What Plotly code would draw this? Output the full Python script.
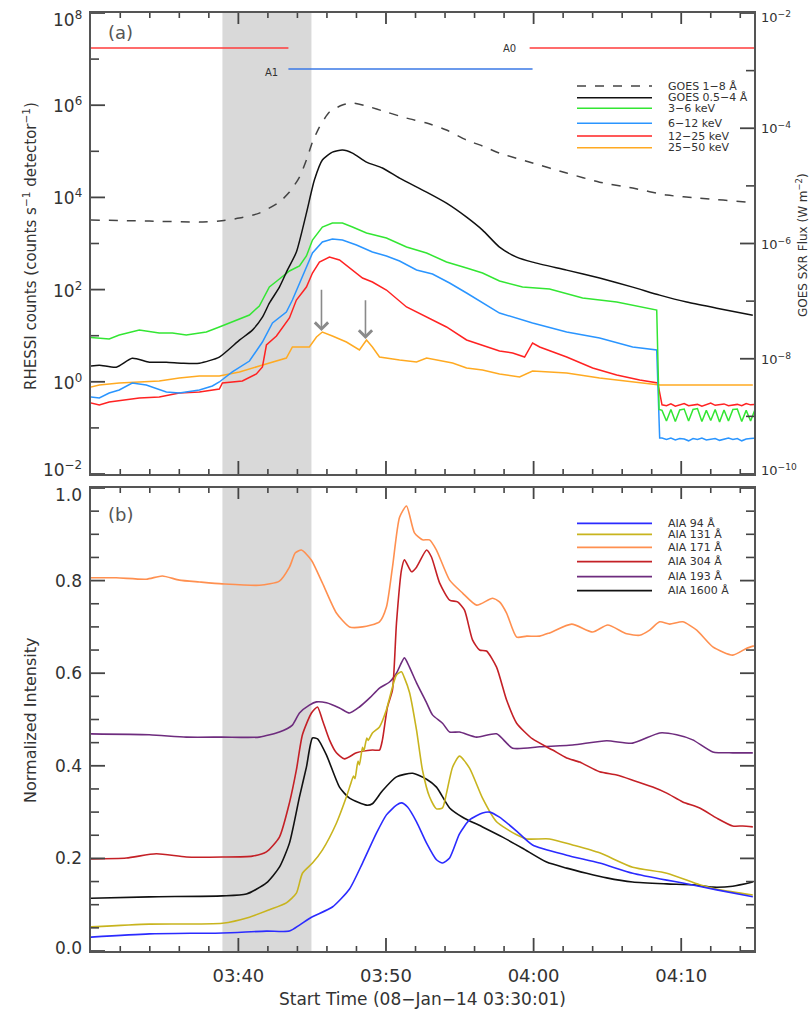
import numpy as np
import plotly.graph_objects as go

# ---------------------------------------------------------------------------
# Time is expressed in minutes after 03:30:00 UT, 2014-01-08
# ---------------------------------------------------------------------------
tick_minutes = [10, 20, 30, 40]
tick_labels = ["03:40", "03:50", "04:00", "04:10"]
shade_start, shade_end = 8.92, 14.95

# ---- GOES X-ray flux (W m^-2) ---------------------------------------------
goes18_t = [0, 3.97, 7.36, 8.71, 10.07, 11.42, 12.78, 13.46, 14.14, 14.61, 15.02, 15.49,
            16.17, 17.05, 17.73, 18.68, 20.03, 21.39, 22.75, 24.10, 25.46, 26.54, 27.69,
            29.93, 32.24, 34.47, 36.71, 39.02, 41.25, 44.51, 45.0]
goes18_flux = [2.55e-6, 2.45e-6, 2.35e-6, 2.45e-6, 2.76e-6, 3.37e-6, 5.24e-6, 7.80e-6,
               1.42e-5, 2.81e-5, 5.75e-5, 1.05e-4, 1.91e-4, 2.53e-4, 2.74e-4, 2.43e-4,
               1.91e-4, 1.50e-4, 1.23e-4, 9.31e-5, 6.24e-5, 4.91e-5, 3.71e-5, 2.49e-5,
               1.67e-5, 1.16e-5, 9.16e-6, 6.92e-6, 6.14e-6, 5.24e-6, 5.15e-6]

goes054_t = [0, 0.58, 1.73, 2.81, 3.97, 5.12, 6.20, 7.36, 8.71, 10.07, 10.95, 11.63, 12.10,
             12.78, 13.32, 13.93, 14.61, 15.15, 15.69, 16.37, 17.05, 17.73, 18.68, 19.76,
             20.92, 22.75, 24.10, 25.46, 26.54, 27.69, 28.85, 29.93, 32.24, 34.47, 36.71,
             38.54, 40.37, 42.41, 44.85]
goes054_flux = [7.45e-9, 7.74e-9, 7.14e-9, 1.02e-8, 8.73e-9, 8.73e-9, 8.39e-9, 8.39e-9,
                1.07e-8, 2.10e-8, 3.14e-8, 5.27e-8, 9.23e-8, 1.75e-7, 3.45e-7, 7.10e-7,
                3.37e-6, 1.26e-5, 2.81e-5, 3.86e-5, 4.19e-5, 3.71e-5, 2.59e-5, 2.04e-5,
                1.36e-5, 7.80e-6, 5.02e-6, 2.87e-6, 1.71e-6, 8.65e-7, 5.81e-7, 4.75e-7,
                3.45e-7, 2.51e-7, 1.75e-7, 1.27e-7, 9.62e-8, 7.55e-8, 5.71e-8]

# ---- RHESSI count rates, log10(counts s^-1 detector^-1) -------------------
post_t = [38.7, 39.0, 39.3, 39.6, 39.9, 40.2, 40.5, 40.8, 41.1, 41.4, 41.7, 42.0, 42.3,
          42.6, 42.9, 43.2, 43.5, 43.8, 44.1, 44.4, 44.7, 45.0]

r3_6_t = [0, 1.25, 1.93, 3.29, 4.64, 5.53, 6.47, 7.83, 8.71, 9.59, 10.75, 11.42, 12.10,
          12.78, 13.46, 14.14, 14.61, 15.02, 15.69, 16.37, 17.05, 17.73, 18.68, 20.03,
          21.39, 22.75, 24.10, 25.46, 26.54, 27.69, 29.25, 31.08, 33.32, 35.63, 37.66,
          38.34, 38.5] + post_t
r3_6_log = [0.964, 0.928, 1.015, 1.124, 1.059, 1.059, 1.015, 1.080, 1.189, 1.297, 1.449,
            1.644, 2.056, 2.230, 2.404, 2.512, 2.729, 3.076, 3.358, 3.445, 3.445, 3.358,
            3.228, 3.119, 2.924, 2.794, 2.599, 2.469, 2.360, 2.187, 2.056, 2.013, 1.818,
            1.731, 1.601, 1.557, -0.60,
            -0.62, -0.85, -0.60, -0.86, -0.61, -0.59, -0.85, -0.60, -0.58, -0.86, -0.62,
            -0.84, -0.60, -0.87, -0.61, -0.85, -0.60, -0.59, -0.86, -0.62, -0.85, -0.60]

r6_12_t = [0, 0.58, 1.25, 1.93, 2.81, 3.76, 5.12, 6.00, 7.36, 8.24, 8.71, 9.59, 10.75,
           11.63, 12.31, 13.25, 13.66, 14.14, 14.61, 15.02, 15.69, 16.37, 17.05, 18.00,
           19.08, 20.03, 20.92, 22.07, 23.15, 24.31, 25.46, 26.54, 27.69, 29.93, 32.24,
           34.47, 36.71, 38.34, 38.54] + post_t
r6_12_log = [-0.330, -0.351, -0.243, -0.178, -0.026, -0.069, -0.221, -0.243, -0.178, -0.091,
             -0.004, 0.213, 0.451, 0.863, 1.275, 1.514, 1.774, 2.143, 2.469, 2.794, 3.033,
             3.098, 3.076, 2.967, 2.816, 2.729, 2.620, 2.425, 2.338, 2.143, 1.926, 1.709,
             1.492, 1.275, 1.080, 0.950, 0.755, 0.690, -1.22,
             -1.22, -1.25, -1.22, -1.26, -1.23, -1.24, -1.28, -1.23, -1.25, -1.22, -1.26,
             -1.24, -1.23, -1.27, -1.24, -1.22, -1.25, -1.23, -1.28, -1.24, -1.23, -1.22]

r12_25_t = [0, 0.58, 1.25, 2.14, 3.29, 4.64, 6.00, 7.36, 8.71, 8.92, 10.27, 11.22, 11.63,
            11.90, 12.58, 13.46, 13.93, 14.61, 15.02, 15.49, 16.17, 16.85, 17.73, 18.41,
            19.08, 20.03, 21.39, 22.75, 24.10, 25.46, 26.81, 27.69, 28.58, 29.39, 29.93,
            30.41, 32.24, 34.00, 35.63, 37.19, 38.41, 38.68] + post_t
r12_25_log = [-0.460, -0.503, -0.438, -0.395, -0.351, -0.330, -0.243, -0.221, -0.156,
              -0.026, 0.017, 0.169, 0.321, 0.798, 0.993, 1.384, 1.774, 2.056, 2.360, 2.599,
              2.707, 2.642, 2.425, 2.252, 2.165, 1.991, 1.623, 1.406, 1.189, 0.907, 0.755,
              0.668, 0.625, 0.538, 0.842, 0.755, 0.538, 0.299, 0.147, 0.039, -0.026, -0.50,
              -0.50, -0.52, -0.48, -0.53, -0.50, -0.47, -0.52, -0.50, -0.49, -0.53, -0.50,
              -0.46, -0.51, -0.50, -0.48, -0.52, -0.50, -0.49, -0.52, -0.47, -0.50, -0.49]

r25_50_t = [0, 0.58, 1.93, 3.29, 4.64, 6.00, 7.36, 8.71, 10.07, 11.42, 12.78, 13.25, 13.66,
            14.14, 14.81, 15.29, 15.69, 16.37, 17.32, 18.20, 18.68, 19.08, 19.56, 20.92,
            22.07, 22.75, 23.42, 24.51, 25.46, 26.54, 27.69, 29.05, 29.93, 32.24, 34.47,
            36.71, 38.54, 40.37, 42.41, 44.85]
r25_50_log = [-0.113, -0.069, -0.026, -0.004, 0.017, 0.082, 0.126, 0.126, 0.213, 0.343,
              0.473, 0.516, 0.755, 0.755, 0.755, 0.972, 1.080, 0.993, 0.863, 0.690, 0.907,
              0.755, 0.538, 0.473, 0.430, 0.516, 0.473, 0.408, 0.299, 0.256, 0.169, 0.104,
              0.234, 0.191, 0.082, -0.004, -0.069, -0.069, -0.069, -0.069]

# ---- RHESSI attenuator states ---------------------------------------------
a0_level, a1_level = 1.74e7, 6.1e6
a0_spans = [(0.0, 13.39), (29.73, 45.0)]
a1_spans = [(13.39, 29.93)]

# HXR peaks marked with arrows: (time, log10 tip, log10 tail)
hxr_peaks = [(15.63, 1.10, 2.03), (18.61, 0.93, 1.80)]

# ---- AIA normalized light curves ------------------------------------------
aia94_t = [0, 3.97, 8.92, 11.90, 13.46, 14.14, 14.95, 16.37, 17.53, 18.41, 19.36, 20.03,
           20.71, 21.05, 21.46, 22.07, 22.75, 23.42, 23.83, 24.31, 24.98, 25.66, 26.54,
           27.02, 27.69, 28.85, 29.93, 32.24, 34.47, 36.71, 39.02, 40.10, 42.41, 44.85]
aia94 = [0.030, 0.037, 0.039, 0.043, 0.043, 0.056, 0.073, 0.095, 0.134, 0.190, 0.255,
         0.294, 0.315, 0.320, 0.311, 0.279, 0.233, 0.197, 0.190, 0.201, 0.253, 0.283,
         0.298, 0.300, 0.289, 0.259, 0.229, 0.207, 0.190, 0.168, 0.153, 0.147, 0.132, 0.117]

aia131_t = [0, 3.97, 8.92, 10.75, 12.10, 13.25, 13.93, 14.34, 15.02, 15.69, 16.64, 17.32,
            17.6, 17.8, 17.9, 18.1, 18.2, 18.41, 18.5, 18.7, 18.8, 19.08, 19.56, 20.03,
            20.24, 20.71, 21.05, 21.25, 21.59, 22.07, 22.47, 22.95, 23.42, 23.83, 24.10,
            24.51, 24.98, 25.66, 26.54, 27.49, 28.85, 29.53, 31.08, 32.64, 34.47, 36.71,
            39.02, 41.25, 42.61, 44.85]
aia131 = [0.052, 0.058, 0.060, 0.073, 0.089, 0.104, 0.125, 0.168, 0.190, 0.218, 0.276,
          0.333, 0.360, 0.378, 0.372, 0.410, 0.402, 0.440, 0.432, 0.460, 0.455, 0.471,
          0.484, 0.521, 0.546, 0.596, 0.603, 0.590, 0.559, 0.477, 0.391, 0.333, 0.307,
          0.309, 0.341, 0.397, 0.421, 0.395, 0.330, 0.279, 0.251, 0.242, 0.242, 0.229,
          0.212, 0.181, 0.168, 0.143, 0.132, 0.121]

aia171_t = [0, 1.73, 3.76, 4.85, 6.00, 7.36, 8.92, 11.42, 12.78, 13.46, 13.86, 14.27, 14.95,
            15.69, 16.64, 17.53, 18.41, 19.56, 20.03, 20.44, 20.92, 21.39, 21.93, 22.47,
            22.95, 23.42, 24.31, 25.19, 26.14, 27.22, 27.69, 28.17, 28.85, 29.53, 30.41,
            31.08, 32.58, 34.00, 35.02, 36.31, 37.19, 37.86, 38.54, 39.22, 40.10, 41.05,
            42.14, 43.49, 44.44, 44.92]
aia171 = [0.806, 0.806, 0.803, 0.810, 0.801, 0.797, 0.793, 0.790, 0.799, 0.829, 0.860,
          0.866, 0.844, 0.795, 0.730, 0.700, 0.700, 0.711, 0.743, 0.829, 0.937, 0.961,
          0.903, 0.888, 0.888, 0.866, 0.801, 0.773, 0.747, 0.762, 0.754, 0.730, 0.678,
          0.680, 0.680, 0.687, 0.706, 0.689, 0.704, 0.685, 0.682, 0.693, 0.711, 0.706,
          0.711, 0.693, 0.657, 0.639, 0.654, 0.659]

aia304_t = [0, 2.41, 4.44, 6.47, 8.92, 10.95, 11.90, 12.78, 13.46, 13.93, 14.34, 14.95,
            15.36, 15.69, 16.17, 16.64, 17.19, 18.00, 19.08, 19.56, 19.76, 20.10, 20.44,
            20.71, 21.05, 21.25, 21.73, 22.07, 22.75, 23.08, 23.63, 24.31, 24.85, 25.32,
            25.86, 26.34, 26.81, 27.49, 28.17, 28.85, 29.93, 31.29, 32.24, 33.12, 34.47,
            35.63, 36.71, 38.07, 39.02, 40.10, 41.25, 42.41, 43.49, 44.17, 44.85]
aia304 = [0.199, 0.201, 0.210, 0.203, 0.203, 0.205, 0.214, 0.246, 0.320, 0.391, 0.467,
          0.514, 0.527, 0.499, 0.456, 0.428, 0.415, 0.428, 0.434, 0.434, 0.456, 0.527,
          0.564, 0.708, 0.823, 0.845, 0.819, 0.829, 0.866, 0.851, 0.795, 0.758, 0.754,
          0.736, 0.672, 0.650, 0.648, 0.613, 0.542, 0.492, 0.458, 0.434, 0.417, 0.408,
          0.387, 0.380, 0.369, 0.354, 0.341, 0.322, 0.309, 0.287, 0.270, 0.270, 0.268]

aia193_t = [0, 3.97, 6.47, 8.92, 11.42, 12.78, 13.66, 14.14, 14.81, 15.29, 15.97, 16.85,
            17.53, 18.20, 18.88, 19.56, 20.24, 20.71, 21.25, 21.59, 22.07, 22.75, 23.15,
            23.83, 24.31, 24.98, 26.14, 27.49, 28.58, 30.41, 32.64, 34.95, 36.71, 38.54,
            39.69, 40.78, 42.14, 43.49, 44.85]
aia193 = [0.469, 0.467, 0.462, 0.462, 0.462, 0.473, 0.488, 0.514, 0.531, 0.538, 0.536,
          0.525, 0.514, 0.527, 0.546, 0.568, 0.581, 0.600, 0.633, 0.613, 0.579, 0.536,
          0.510, 0.492, 0.473, 0.473, 0.462, 0.469, 0.438, 0.441, 0.445, 0.454, 0.449,
          0.471, 0.467, 0.456, 0.430, 0.428, 0.428]

aia1600_t = [0, 3.97, 8.92, 10.54, 11.90, 12.78, 13.46, 14.14, 14.61, 15.02, 15.36, 15.97,
             16.85, 17.53, 18.68, 19.08, 19.76, 20.71, 21.80, 22.75, 23.42, 24.31, 25.19,
             26.54, 27.90, 29.25, 30.88, 32.24, 33.59, 34.95, 36.71, 39.02, 40.78, 42.14,
             43.49, 44.85]
aia1600 = [0.114, 0.117, 0.119, 0.123, 0.147, 0.181, 0.233, 0.333, 0.397, 0.460, 0.458,
           0.423, 0.354, 0.330, 0.315, 0.318, 0.346, 0.376, 0.384, 0.371, 0.354, 0.309,
           0.289, 0.268, 0.246, 0.222, 0.192, 0.179, 0.168, 0.158, 0.149, 0.145, 0.143,
           0.138, 0.140, 0.149]

# ---------------------------------------------------------------------------
AX = "#444444"
TXT = "#333333"
FONT = "DejaVu Sans"

fig = go.Figure()


def line(t, y, color, xa, ya, dash=None, width=1.5, shape="linear"):
    fig.add_trace(go.Scatter(
        x=t, y=y, mode="lines", xaxis=xa, yaxis=ya, showlegend=False,
        hoverinfo="skip",
        line=dict(color=color, width=width, dash=dash, shape=shape,
                  smoothing=0.6 if shape == "spline" else None)))


# panel (a): attenuator states
for s, e in a0_spans:
    line([s, e], [a0_level, a0_level], "#ff3b3b", "x", "y", width=1.4)
for s, e in a1_spans:
    line([s, e], [a1_level, a1_level], "#3a78e6", "x", "y", width=1.4)

# panel (a): RHESSI
line(r25_50_t, np.power(10.0, r25_50_log), "#ffaa22", "x", "y")
line(r12_25_t, np.power(10.0, r12_25_log), "#ff2222", "x", "y")
line(r6_12_t, np.power(10.0, r6_12_log), "#2a95ff", "x", "y")
line(r3_6_t, np.power(10.0, r3_6_log), "#33e633", "x", "y")

# panel (a): GOES on the right-hand axis
line(goes18_t, goes18_flux, "#444444", "x", "y2", dash="dash", width=1.5, shape="spline")
line(goes054_t, goes054_flux, "#111111", "x", "y2", width=1.5, shape="spline")

# panel (b): AIA
aia_series = [
    (aia171_t, aia171, "#ff9050"),
    (aia193_t, aia193, "#6e2c7e"),
    (aia304_t, aia304, "#c42026"),
    (aia1600_t, aia1600, "#111111"),
    (aia131_t, aia131, "#c8b41e"),
    (aia94_t, aia94, "#2b2bff"),
]
for t, y, c in aia_series:
    line(t, y, c, "x2", "y3", width=1.6, shape="spline")

# ---------------------------------------------------------------------------
# layout geometry (pixels of the 811 x 1010 page)
PL, PR, PT, PB = 91, 754, 13, 951
TOP_H, BOT_H, W = 474 - 13, 951 - 488, 754 - 91
X_RANGE = [0.017, 44.93]
LEFT_DEC = [-2, 8]      # log10 range of the counts axis
RIGHT_DEC = [-10, -2]   # log10 range of the flux axis


def px(xp):
    return (xp - PL) / (PR - PL)


def py(yp):
    return (PB - yp) / (PB - PT)


top_dom = [py(474), 1.0]
bot_dom = [0.0, py(488)]

log_left_vals = [1e-2, 1, 1e2, 1e4, 1e6, 1e8]
log_left_text = ["10<sup>−2</sup>", "10<sup>0</sup>", "10<sup>2</sup>", "10<sup>4</sup>",
                 "10<sup>6</sup>", "10<sup>8</sup>"]
log_left_minor = [1e-1, 1e1, 1e3, 1e5, 1e7]
log_right_vals = [1e-10, 1e-8, 1e-6, 1e-4, 1e-2]
log_right_text = ["10<sup>−10</sup>", "10<sup>−8</sup>", "10<sup>−6</sup>",
                  "10<sup>−4</sup>", "10<sup>−2</sup>"]
log_right_minor = [1e-9, 1e-7, 1e-5, 1e-3]
norm_vals = [0.0, 0.2, 0.4, 0.6, 0.8, 1.0]
norm_text = ["0.0", "0.2", "0.4", "0.6", "0.8", "1.0"]
norm_minor = [round(0.05 * k, 2) for k in range(1, 20) if k % 4]
minute_minor = [m for m in range(2, 45, 2) if m % 10]

# ---- inward tick marks, drawn as line segments on each axis ---------------
mpp = (X_RANGE[1] - X_RANGE[0]) / W        # minutes per pixel


def tick_trace(pairs, xa, ya, width):
    xs, ys = [], []
    for (xa_, ya_), (xb_, yb_) in pairs:
        xs += [xa_, xb_, None]
        ys += [ya_, yb_, None]
    fig.add_trace(go.Scatter(x=xs, y=ys, mode="lines", xaxis=xa, yaxis=ya,
                             showlegend=False, hoverinfo="skip", connectgaps=False,
                             line=dict(color=AX, width=width)))


def x_ticks(xa, ya, lo, hi, up, major_len, minor_len):
    maj, mnr = [], []
    for m in tick_minutes:
        maj.append(((m, lo), (m, up(lo, major_len))))
        maj.append(((m, hi), (m, up(hi, -major_len + 2))))
    for m in minute_minor:
        mnr.append(((m, lo), (m, up(lo, minor_len))))
        mnr.append(((m, hi), (m, up(hi, -minor_len))))
    tick_trace(maj, xa, ya, 1.8)
    tick_trace(mnr, xa, ya, 1.6)


def log_up(dec_per_px):
    return lambda v, pix: v * 10 ** (pix * dec_per_px)


def lin_up(val_per_px):
    return lambda v, pix: v + pix * val_per_px


x_ticks("x", "y", 10 ** LEFT_DEC[0], 10 ** LEFT_DEC[1],
        log_up((LEFT_DEC[1] - LEFT_DEC[0]) / TOP_H), 13, 5)
x_ticks("x2", "y3", 0.0, 1.0, lin_up(1.0 / BOT_H), 13, 5)

x0, x1 = X_RANGE
tick_trace([((x0, v), (x0 + 14 * mpp, v)) for v in log_left_vals], "x", "y", 1.8)
tick_trace([((x0, v), (x0 + 8 * mpp, v)) for v in log_left_minor], "x", "y", 1.6)
tick_trace([((x1, v), (x1 - 14 * mpp, v)) for v in log_right_vals], "x", "y2", 1.8)
tick_trace([((x1, v), (x1 - 8 * mpp, v)) for v in log_right_minor], "x", "y2", 1.6)
tick_trace([((x0, v), (x0 + 14 * mpp, v)) for v in norm_vals] +
           [((x1, v), (x1 - 14 * mpp, v)) for v in norm_vals], "x2", "y3", 1.8)
tick_trace([((x0, v), (x0 + 8 * mpp, v)) for v in norm_minor] +
           [((x1, v), (x1 - 8 * mpp, v)) for v in norm_minor], "x2", "y3", 1.6)

xcommon = dict(range=X_RANGE, tickmode="array", tickvals=tick_minutes,
               ticktext=tick_labels, ticks="", showline=True, linecolor="#555555",
               linewidth=1.6, mirror=True, showgrid=False, zeroline=False)
ycommon = dict(ticks="", showline=True, linecolor="#555555", linewidth=1.6,
               showgrid=False, zeroline=False, showticklabels=False)

fig.update_layout(
    width=811, height=1010,
    margin=dict(l=PL, r=811 - PR, t=PT, b=1010 - PB),
    paper_bgcolor="white", plot_bgcolor="white",
    showlegend=False,
    font=dict(family=FONT, color=TXT),
    xaxis=dict(**xcommon, domain=[0, 1], anchor="y", showticklabels=False),
    xaxis2=dict(**xcommon, domain=[0, 1], anchor="y3", matches="x",
                showticklabels=True, tickfont=dict(size=18, color=TXT),
                ticklabelstandoff=8),
    yaxis=dict(**ycommon, domain=top_dom, anchor="x", type="log", range=LEFT_DEC),
    yaxis2=dict(**ycommon, overlaying="y", anchor="x", side="right", type="log",
                range=RIGHT_DEC),
    yaxis3=dict(**ycommon, domain=bot_dom, anchor="x2", range=[0, 1.0], mirror=True),
)

shapes = [
    dict(type="rect", xref="x", yref="y domain", x0=shade_start, x1=shade_end, y0=0,
         y1=1, fillcolor="#d9d9d9", line=dict(width=0), layer="below"),
    dict(type="rect", xref="x2", yref="y3 domain", x0=shade_start, x1=shade_end, y0=0,
         y1=1, fillcolor="#d9d9d9", line=dict(width=0), layer="below"),
]
annotations = []


def note(text, x, y, size, xref="paper", yref="paper", color=TXT, angle=0,
         xanchor="center", xshift=0, yshift=0):
    annotations.append(dict(xref=xref, yref=yref, x=x, y=y, text=text, showarrow=False,
                            xanchor=xanchor, yanchor="middle", textangle=angle,
                            xshift=xshift, yshift=yshift,
                            font=dict(size=size, color=color, family=FONT)))


# y-axis tick labels; the end labels are nudged inside the frame
def end_shift(i, n, low, high):
    return low if i == 0 else (-high if i == n - 1 else 0)


for i, (v, s) in enumerate(zip(log_left_vals, log_left_text)):
    note(s, 0, np.log10(v), 17, xref="x domain", yref="y", xanchor="right", xshift=-7,
         yshift=end_shift(i, len(log_left_vals), 5, 6))
for i, (v, s) in enumerate(zip(log_right_vals, log_right_text)):
    note(s, 1, np.log10(v), 13, xref="x domain", yref="y2", xanchor="left", xshift=5,
         yshift=end_shift(i, len(log_right_vals), 4, 4))
for i, (v, s) in enumerate(zip(norm_vals, norm_text)):
    note(s, 0, v, 17, xref="x2 domain", yref="y3", xanchor="right", xshift=-7,
         yshift=end_shift(i, len(norm_vals), 3, 7))

# legends
top_legend = [
    ("GOES 1−8 Å", "#444444", "dash", 86.0),
    ("GOES 0.5−4 Å", "#111111", None, 97.7),
    ("3−6 keV", "#33e633", None, 108.3),
    ("6−12 keV", "#2a95ff", None, 123.3),
    ("12−25 keV", "#ff2222", None, 136.0),
    ("25−50 keV", "#ffaa22", None, 147.7),
]
bot_legend = [
    ("AIA 94 Å", "#2b2bff", 523.3),
    ("AIA 131 Å", "#c8b41e", 534.3),
    ("AIA 171 Å", "#ff9050", 547.3),
    ("AIA 304 Å", "#c42026", 561.7),
    ("AIA 193 Å", "#6e2c7e", 576.7),
    ("AIA 1600 Å", "#111111", 590.7),
]
for label, color, dash, yp in top_legend:
    shapes.append(dict(type="line", xref="paper", yref="paper", x0=px(577), x1=px(652),
                       y0=py(yp), y1=py(yp),
                       line=dict(color=color, width=1.5, dash=dash or "solid")))
    note(label, px(666), py(yp), 11, xanchor="left")
for label, color, yp in bot_legend:
    shapes.append(dict(type="line", xref="paper", yref="paper", x0=px(577), x1=px(652),
                       y0=py(yp), y1=py(yp), line=dict(color=color, width=1.7)))
    note(label, px(666), py(yp), 11, xanchor="left")

# attenuator labels
note("A1", 12.25, np.log10(a1_level) - 0.08, 10, xref="x", yref="y")
note("A0", 28.4, np.log10(a0_level), 10, xref="x", yref="y")

# arrows on the 25-50 keV peaks
for t, tip, tail in hxr_peaks:
    annotations.append(dict(xref="x", yref="y", x=t, y=tip, axref="x", ayref="y", ax=t,
                            ay=tail, showarrow=True, arrowhead=4, arrowsize=1.6,
                            arrowwidth=1.6, arrowcolor="#8a8a8a", text=""))

# panel tags
note("(a)", px(120), (474 - 32) / TOP_H, 18, xref="x domain", yref="y domain",
     color="#555")
note("(b)", px(120), (951 - 514) / BOT_H, 18, xref="x domain", yref="y3 domain",
     color="#555")

# axis titles
note("RHESSI counts (counts s<sup>−1</sup> detector<sup>−1</sup>)", px(30), py(246), 15,
     angle=-90)
note("GOES SXR Flux (W m<sup>−2</sup>)", px(802), py(245), 12, angle=-90)
note("Normalized Intensity", px(30), py(720), 16, angle=-90)
note("Start Time (08−Jan−14 03:30:01)", px(422), py(999), 17)

fig.update_layout(shapes=shapes, annotations=annotations)
fig.write_html("out.html")
